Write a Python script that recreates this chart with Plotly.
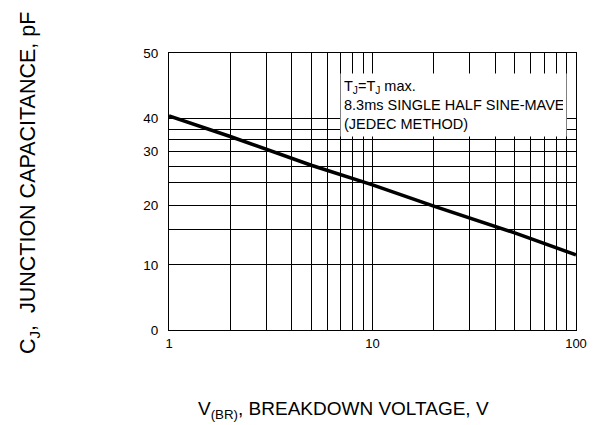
import numpy as np
import plotly.graph_objects as go

# ---- data ----
V_BR = [1, 2, 5, 10, 20, 50, 100]                  # breakdown voltage, V
CJ = [40.4, 34.5, 27.4, 23.8, 19.9, 15.4, 11.7]     # junction capacitance, pF

X_TICKS = [1, 10, 100]
X_MINOR = [2, 3, 4, 5, 6, 7, 8, 9, 20, 30, 40, 50, 60, 70, 80, 90]

Y_LABELS = [0, 10, 20, 30, 40, 50]

# ---- the printed chart's (non-linear) y scale: labelled values -> height fraction ----
Y_LABEL_FRAC = [0.0, 0.2349, 0.4492, 0.6458, 0.7637, 1.0]
Y_MINOR_FRAC = [0.3639, 0.5338, 0.5902, 0.6867, 0.7253]


def y_scale(v):
    return np.interp(v, Y_LABELS, Y_LABEL_FRAC)


FONT = "Liberation Sans, Arial, sans-serif"

fig = go.Figure()
fig.add_trace(go.Scatter(
    x=V_BR, y=y_scale(CJ), mode="lines",
    line=dict(color="black", width=3.6),
    hoverinfo="skip", showlegend=False,
))

grid = dict(showgrid=True, gridcolor="black", gridwidth=1)

fig.update_layout(
    width=599, height=425,
    margin=dict(l=169, r=17, t=53, b=95),
    paper_bgcolor="white", plot_bgcolor="white",
    font=dict(family=FONT, color="black"),
    showlegend=False,
    xaxis=dict(
        type="log", range=[0, 2],
        tickvals=X_TICKS, ticktext=[str(v) for v in X_TICKS],
        ticks="", ticklabelstandoff=1,
        tickfont=dict(size=13, family=FONT, color="black"),
        showline=True, linecolor="black", linewidth=1, mirror=True,
        zeroline=False,
        minor=dict(tickvals=X_MINOR, ticks="", **grid),
        **grid,
    ),
    yaxis=dict(
        range=[0, 1],
        tickvals=Y_LABEL_FRAC, ticktext=[str(v) for v in Y_LABELS],
        ticks="", ticklabelstandoff=7,
        tickfont=dict(size=13.5, family=FONT, color="black"),
        showline=True, linecolor="black", linewidth=1, mirror=True,
        zeroline=False,
        minor=dict(tickvals=Y_MINOR_FRAC, ticks="", **grid),
        **grid,
    ),
)

# condition box (white background hides the grid behind it)
fig.add_annotation(
    xref="paper", yref="paper", x=0.419, y=0.928,
    xanchor="left", yanchor="top", align="left",
    text="T<sub>J</sub>=T<sub>J</sub> max.<br>8.3ms SINGLE HALF SINE-MAVE<br>(JEDEC METHOD)",
    showarrow=False, bgcolor="white", borderpad=3, width=219, height=56,
    font=dict(size=14.5, family=FONT, color="black"),
)

# axis titles
fig.add_annotation(
    xref="paper", yref="paper", x=0.428, y=-0.289,
    xanchor="center", yanchor="middle", showarrow=False,
    text="V<sub>(BR)</sub>, BREAKDOWN VOLTAGE, V",
    font=dict(size=19, family=FONT, color="black"),
)
fig.add_annotation(
    xref="paper", yref="paper", x=-0.3426, y=0.529,
    xanchor="center", yanchor="middle", showarrow=False, textangle=-90,
    text="C<sub>J</sub>,&nbsp; JUNCTION CAPACITANCE, pF",
    font=dict(size=21.5, family=FONT, color="black"),
)

fig.write_html(
    "out.html",
    config={"displayModeBar": False},
    post_script="document.body.style.margin='0';document.body.style.padding='0';",
)
